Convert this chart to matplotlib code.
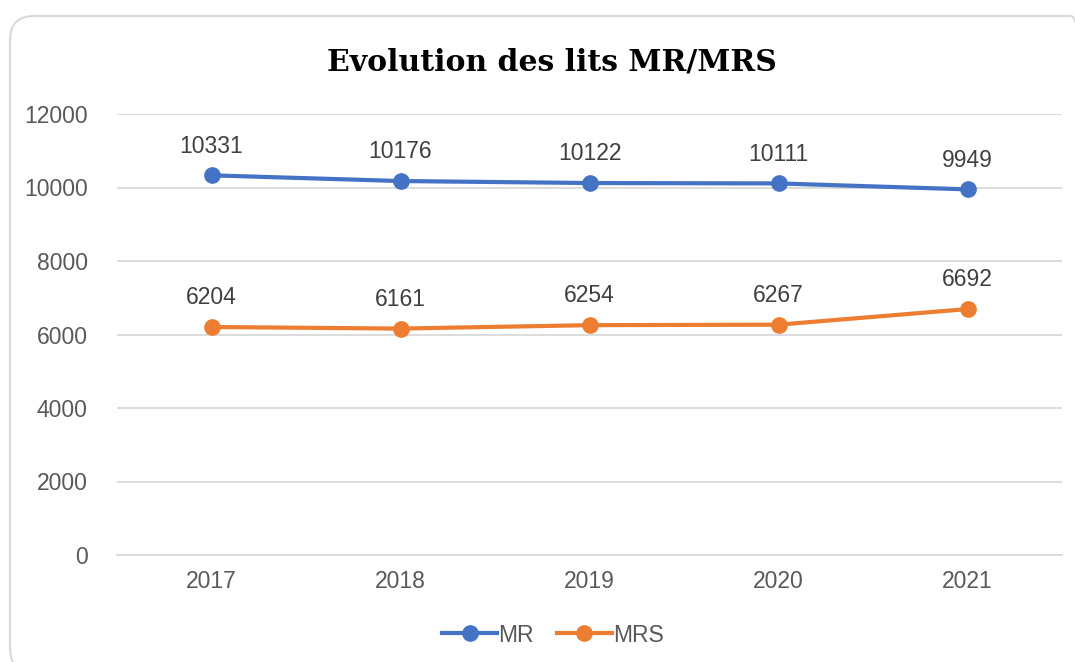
import matplotlib.pyplot as plt
from matplotlib.patches import FancyBboxPatch

# Données
annees = ["2017", "2018", "2019", "2020", "2021"]
lits_mr = [10331, 10176, 10122, 10111, 9949]
lits_mrs = [6204, 6161, 6254, 6267, 6692]

bleu = '#4472C4'
orange = '#ED7D31'
gris = '#D9D9D9'

plt.rcParams['font.family'] = ['Liberation Sans', 'DejaVu Sans']

W, H = 1075, 662
fig = plt.figure(figsize=(W / 100, H / 100), dpi=100)
ax = fig.add_axes([117 / W, 1 - 555 / H, (1062 - 117) / W, (555 - 114) / H])

# Cadre arrondi autour du graphique (en pixels), coupé à droite et en bas
cadre = FancyBboxPatch((10, H - 672), 1085, 672 - 16,
                       boxstyle="round,pad=0,rounding_size=24",
                       transform=None, facecolor='none',
                       edgecolor=gris, linewidth=1.5, zorder=0, clip_on=False)
fig.patches.append(cadre)

x = range(len(annees))
ax.plot(x, lits_mr, color=bleu, linewidth=3, marker='o', markersize=11, label='MR', zorder=3)
ax.plot(x, lits_mrs, color=orange, linewidth=3, marker='o', markersize=11, label='MRS', zorder=3)

# Etiquettes de données
for i in x:
    ax.annotate(str(lits_mr[i]), (i, lits_mr[i]), xytext=(0, 21), textcoords='offset points',
                ha='center', va='center', fontsize=16.5, color='#404040')
    ax.annotate(str(lits_mrs[i]), (i, lits_mrs[i]), xytext=(0, 21), textcoords='offset points',
                ha='center', va='center', fontsize=16.5, color='#404040')

ax.set_xlim(-0.5, 4.5)
ax.set_ylim(0, 12000)
ax.set_yticks(range(0, 12001, 2000))
ax.set_xticks(list(x))
ax.set_xticklabels(annees)
ax.tick_params(axis='both', length=0, labelsize=16.5, labelcolor='#595959')
ax.tick_params(axis='y', pad=21)
ax.tick_params(axis='x', pad=11)
ax.grid(axis='y', color=gris, linewidth=1.3)
ax.set_axisbelow(True)
for s in ['top', 'right', 'left']:
    ax.spines[s].set_visible(False)
ax.spines['bottom'].set_color(gris)
ax.spines['bottom'].set_linewidth(1.3)

fig.text(552 / W, 1 - 62 / H, "Evolution des lits MR/MRS", ha='center', va='center',
         fontsize=21.5, fontweight='bold', family=['DejaVu Serif'])

ax.legend(loc='center', bbox_to_anchor=(553 / W, 1 - 635 / H), bbox_transform=fig.transFigure,
          ncol=2, frameon=False, fontsize=16.5, labelcolor='#595959', handlelength=2.4,
          handletextpad=0.05, columnspacing=1.0)

plt.savefig('out.png', dpi=100)
